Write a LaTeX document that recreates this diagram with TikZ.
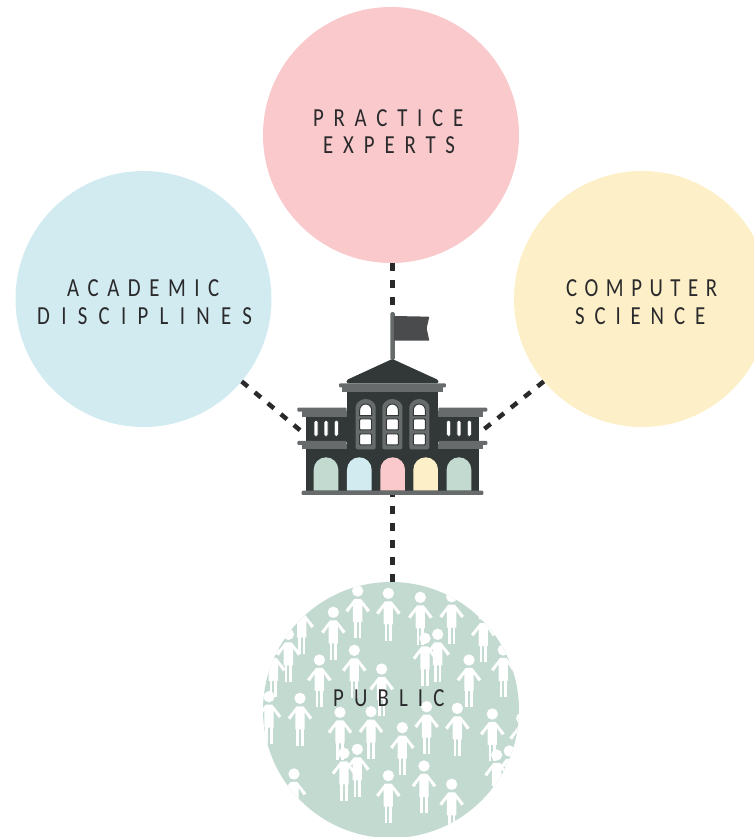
\documentclass[tikz,border=0pt]{standalone}
\usepackage{fontspec}
\setmainfont{Carlito}
\newfontfamily\lblfont[FakeStretch=0.8]{Carlito}
\definecolor{cpink}{HTML}{FAC9CB}
\definecolor{cblue}{HTML}{D2EBF1}
\definecolor{cyellow}{HTML}{FDEFC7}
\definecolor{cgreen}{HTML}{C2DAD0}
\definecolor{wall}{HTML}{323838}
\definecolor{trim}{HTML}{676B6C}
\definecolor{flagc}{HTML}{4A4B4D}
\definecolor{ink}{HTML}{2A2A2C}
\tikzset{
  bubble/.style={circle,inner sep=0pt,minimum size=256pt},
  lbl/.style={text=ink,font=\fontsize{26}{28}\selectfont\lblfont\addfontfeature{LetterSpace=#1},inner sep=0pt,anchor=west},
  link/.style={draw=ink,line width=4.5pt,dash pattern=on 8pt off 9pt},
}
\newcommand{\person}[2]{%
  \begin{scope}[shift={(#1,#2)}]
    \fill[white] (0,0) circle (17);
    \fill[white] (-10,24)--(10,24)--(37,58)--(29,64)--(14,42)--(14,93)--(-14,93)--(-14,42)--(-29,64)--(-37,58)--cycle;
    \fill[white] (-11,90) rectangle (-3,142);
    \fill[white] (3,90) rectangle (11,142);
  \end{scope}}
\newcommand{\cwin}[1]{%
  \fill[trim,rounded corners=2pt] (#1-30,448)--(#1-30,327) arc[start angle=180,end angle=360,radius=30] --(#1+30,448)--cycle;
  \fill[white,draw=wall,line width=1pt] (#1-18,347)--(#1-18,330) arc[start angle=180,end angle=360,radius=18] --(#1+18,347)--cycle;
  \fill[white,draw=wall,line width=1pt,rounded corners=1pt] (#1-18,357) rectangle (#1+18,390);
  \fill[white,draw=wall,line width=1pt,rounded corners=1pt] (#1-18,402) rectangle (#1+18,435);}
\newcommand{\slot}[1]{\fill[white,draw=wall,line width=0.6pt,rounded corners=1.5pt] (#1-6,361) rectangle (#1+6,409);}
\newcommand{\arch}[2]{\fill[#2] (#1-37,572)--(#1-37,509) arc[start angle=180,end angle=360,radius=37] --(#1+37,572)--cycle;}
\begin{document}
\begin{tikzpicture}[x=1pt,y=-1pt]
\useasboundingbox (0,0) rectangle (754,837);
\node[bubble,fill=cpink] (practice) at (391,135) {};
\node[bubble,fill=cblue] (academic) at (143.5,299) {};
\node[bubble,fill=cyellow] (computer) at (642,299) {};
\node[bubble,fill=cgreen] (public) at (391,710) {};
% crowd
\begin{scope}
\clip (391,710) circle (128);
\begin{scope}[shift={(255,575)},x=0.3333pt,y=-0.3333pt]
\foreach \a/\b in {308/48,400/55,496/67,590/65,235/112,140/95,100/178,548/178,510/190,298/226,193/255,380/282,642/255,745/225,685/120,55/225,42/365,135/370,255/412,348/410,515/395,607/400,712/417,442/458,267/535,307/523,725/540,763/528,400/602,507/573,590/628,117/597,800/430}{\person{\a}{\b}}
\end{scope}
\end{scope}
% labels
\node[lbl=37.5] (t1) at (313,118) {PRACTICE};
\node[lbl=38] (t2) at (323,145) {EXPERTS};
\node[lbl=33] (t3) at (67,288) {ACADEMIC};
\node[lbl=43.5] (t4) at (37,316) {DISCIPLINES};
\node[lbl=29] (t5) at (566,288) {COMPUTER};
\node[lbl=38] (t6) at (575,316) {SCIENCE};
\node[lbl=39] (t7) at (333,698) {PUBLIC};
% school anchors
\coordinate (flagtop) at (392.5,305);
\coordinate (wingL) at (301,431);
\coordinate (wingR) at (483,430);
\coordinate (base) at (392.5,495);
% connectors
\draw[link] (flagtop |- practice.south) -- (flagtop);
\draw[link] (academic.-40) -- (wingL);
\draw[link] (computer.220) -- (wingR);
\draw[link] (base |- public.north) -- (base);
% building
\begin{scope}[shift={(290,300)},x=0.3333pt,y=-0.3333pt]
\fill[trim,rounded corners=1.5pt] (301,36) rectangle (315,180);
\fill[flagc,rounded corners=0.7pt] (312,48)--(418,50)--(410,85)--(418,122)--(312,122)--cycle;
\fill[wall,rounded corners=1.3pt] (307,177)--(445,240)--(445,250)--(170,250)--(170,240)--cycle;
\fill[wall] (170,270) rectangle (445,450);
\fill[trim,rounded corners=1pt] (147,250) rectangle (468,262);
\fill[trim] (157,260) rectangle (460,275);
\fill[trim,rounded corners=1pt] (22,323) rectangle (170,335);
\fill[trim,rounded corners=1pt] (445,323) rectangle (592,335);
\fill[trim] (35,333) rectangle (170,350);
\fill[trim] (445,333) rectangle (580,350);
\fill[wall] (47,350) rectangle (170,425);
\fill[wall] (445,350) rectangle (568,425);
\fill[trim,rounded corners=1pt] (22,423) rectangle (170,435);
\fill[trim,rounded corners=1pt] (445,423) rectangle (592,435);
\fill[trim] (35,433) rectangle (170,447);
\fill[trim] (445,433) rectangle (580,447);
\fill[wall] (47,447) rectangle (568,575);
\cwin{227}\cwin{307}\cwin{388}
\slot{78}\slot{108}\slot{139}\slot{476}\slot{507}\slot{538}
\arch{108}{cgreen}\arch{208}{cblue}\arch{308}{cpink}\arch{407}{cyellow}\arch{507}{cgreen}
\fill[trim,rounded corners=1pt] (35,572) rectangle (580,585);
\end{scope}
\end{tikzpicture}
\end{document}
